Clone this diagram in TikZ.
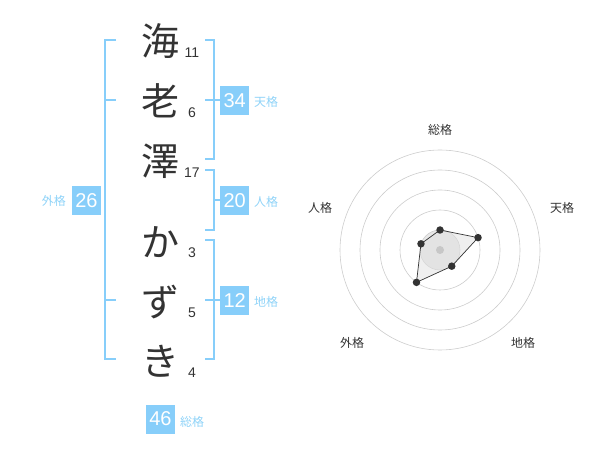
\documentclass[tikz,border=0pt]{standalone}
\usepackage{fontspec}
\usetikzlibrary{calc}
\setmainfont{Liberation Sans}
\newfontfamily\jp{Noto Sans CJK JP}
\definecolor{sky}{HTML}{87CEFA}
\definecolor{skytxt}{HTML}{8FD3F8}
\definecolor{ink}{HTML}{333333}
\begin{document}
\begin{tikzpicture}[x=1pt,y=-1pt,
  big/.style={inner sep=0pt,font=\jp\fontsize{38}{38}\selectfont,text=ink},
  strk/.style={inner sep=0pt,font=\fontsize{14}{14}\selectfont,text=ink},
  brk/.style={draw=sky,line width=2pt},
  score/.style={fill=sky,minimum width=29pt,minimum height=29pt,inner sep=0pt,text=white,font=\fontsize{20}{20}\selectfont},
  lab/.style={inner sep=0pt,text=skytxt,font=\jp\fontsize{12}{12}\selectfont},
  rlab/.style={inner sep=0pt,text=ink,font=\jp\fontsize{12}{12}\selectfont},
  ring/.style={draw=black!20,line width=0.6pt},
  pt/.style={circle,fill=ink,inner sep=0pt,minimum size=7.5pt}]
\useasboundingbox (0,0) rectangle (600,470);
% characters
\node[big] (c1) at (160,41) {海};
\node[big] (c2) at (160,101) {老};
\node[big] (c3) at (160,161) {澤};
\node[big] (c4) at (160,242) {か};
\node[big] (c5) at (160,302) {ず};
\node[big] (c6) at (160,361) {き};
\node[strk] (n1) at (192,52.5) {11};
\node[strk] (n2) at (192,112.5) {6};
\node[strk] (n3) at (192,173) {17};
\node[strk] (n4) at (192,253) {3};
\node[strk] (n5) at (192,313) {5};
\node[strk] (n6) at (192,373) {4};
% left bracket (gaikaku)
\draw[brk] (116,40) -- (105,40) -- (105,359) -- (116,359);
\draw[brk] (105,100) -- (116,100);
\draw[brk] (105,300) -- (116,300);
\node[score] (s1) at (86.5,200.5) {26};
\node[lab,anchor=east] (l1) at (66,201) {外格};
% tenkaku
\draw[brk] (205,40) -- (214,40) -- (214,159) -- (205,159);
\draw[brk] (205,100) -- (220,100);
\node[score,anchor=west] (s2) at (220,100.5) {34};
\node[lab,anchor=west] (l2) at (254,102) {天格};
% jinkaku
\draw[brk] (205,170) -- (214,170) -- (214,230) -- (205,230);
\draw[brk] (214,200) -- (220,200);
\node[score,anchor=west] (s3) at (220,200.5) {20};
\node[lab,anchor=west] (l3) at (254,202) {人格};
% chikaku
\draw[brk] (205,240) -- (214,240) -- (214,359) -- (205,359);
\draw[brk] (205,300) -- (220,300);
\node[score,anchor=west] (s4) at (220,300.5) {12};
\node[lab,anchor=west] (l4) at (254,302) {地格};
% soukaku
\node[score] (s5) at (160.5,419) {46};
\node[lab,anchor=west] (l5) at (180,422) {総格};
% radar
\coordinate (o) at (440,250);
\fill[black!9] (o) circle (20);
\foreach \r in {20,40,60,80,100} \draw[ring] (o) circle (\r);
\coordinate (p1) at ($(o)+(0,-20)$);
\coordinate (p2) at ($(o)+(38.04,-12.36)$);
\coordinate (p3) at ($(o)+(11.76,16.18)$);
\coordinate (p4) at ($(o)+(-23.51,32.36)$);
\coordinate (p5) at ($(o)+(-19.02,-6.18)$);
\fill[black!12,opacity=0.5] (p1) -- (p2) -- (p3) -- (p4) -- (p5) -- cycle;
\draw[ink,line width=0.7pt] (p1) -- (p2) -- (p3) -- (p4) -- (p5) -- cycle;
\fill[black!22] (o) circle (4);
\foreach \p in {p1,p2,p3,p4,p5} \node[pt] at (\p) {};
\node[rlab] (r1) at (440,130) {総格};
\node[rlab] (r2) at (562,208) {天格};
\node[rlab] (r3) at (523,343) {地格};
\node[rlab] (r4) at (352,343) {外格};
\node[rlab] (r5) at (320,208) {人格};
\end{tikzpicture}
\end{document}
